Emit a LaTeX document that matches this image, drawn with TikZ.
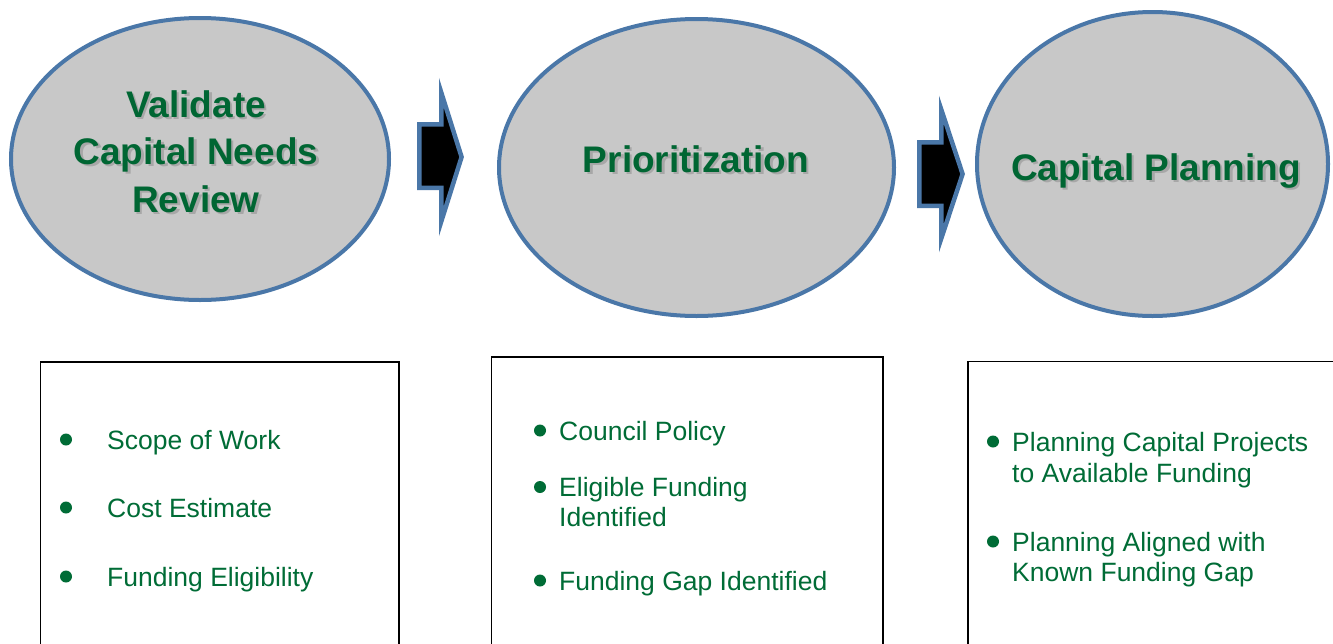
\documentclass[tikz,border=0pt]{standalone}
\usepackage{fontspec}
\setmainfont{Liberation Sans}
\usetikzlibrary{shapes.geometric}

\definecolor{rim}{RGB}{74,119,168}
\definecolor{disc}{RGB}{200,200,200}
\definecolor{leaf}{RGB}{0,102,51}
\definecolor{bodygreen}{RGB}{0,108,54}

\begin{document}
\begin{tikzpicture}[x=1pt,y=-1pt,
  stage/.style={ellipse, draw=rim, fill=disc, line width=4pt, inner sep=0pt},
  title/.style={anchor=base, inner sep=0pt, text=leaf,
    font=\fontsize{37}{48}\selectfont\bfseries},
  titleshadow/.style={title, text=black, opacity=0.16},
  flow/.style={draw=rim, fill=black, line width=4.5pt, line join=miter},
  panel/.style={draw=black, line width=1.6pt, anchor=north west,
    inner sep=0pt, outer sep=0pt, minimum height=400},
  item/.style={anchor=base west, inner sep=0pt, text=bodygreen,
    font=\fontsize{26.5}{31}\selectfont},
  dot/.style={circle, fill=bodygreen, inner sep=0pt, minimum size=12pt},
]
\useasboundingbox (0,0) rectangle (1333,643);
\fill[white] (0,0) rectangle (1333,643);

% the three stages
\node[stage, minimum width=378, minimum height=282] (e1) at (200,159) {};
\node[stage, minimum width=395, minimum height=297] (e2) at (696.5,167.5) {};
\node[stage, minimum width=351, minimum height=304] (e3) at (1152.5,164) {};

% stage titles with a soft drop shadow
\node[titleshadow] (s1a) at (198.5,119.5) {Validate};
\node[titleshadow] (s1b) at (198.5,166.5) {Capital Needs};
\node[titleshadow] (s1c) at (198.5,214.5) {Review};
\node[titleshadow] (s2) at (698.5,174.5) {Prioritization};
\node[titleshadow] (s3) at (1158.5,182.5) {Capital Planning};

\node[title] (t1a) at (196,117) {Validate};
\node[title] (t1b) at (196,164) {Capital Needs};
\node[title] (t1c) at (196,212) {Review};
\node[title] (t2) at (696,172) {Prioritization};
\node[title] (t3) at (1156,180) {Capital Planning};

% block arrows between the stages
\draw[flow] (419.25,124.25) -- (441.25,124.25) -- (441.25,92.5) -- (461.6,157)
  -- (441.25,221.5) -- (441.25,187.75) -- (419.25,187.75) -- cycle;
\draw[flow] (919.25,142.25) -- (941.25,142.25) -- (941.25,109.5) -- (962.6,174)
  -- (941.25,238.5) -- (941.25,205.75) -- (919.25,205.75) -- cycle;

% detail panels
\node[panel, minimum width=358.5] (b1) at (40.5,362) {};
\node[panel, minimum width=391.5] (b2) at (491.5,357) {};
\node[panel, minimum width=400] (b3) at (968,361.5) {};

% panel 1
\node[dot] (d1a) at (66,439.5) {};
\node[dot] (d1b) at (66,507.5) {};
\node[dot] (d1c) at (66,576.5) {};
\node[item] (i1a) at (107,449) {Scope of Work};
\node[item] (i1b) at (107,517) {Cost Estimate};
\node[item] (i1c) at (107,586) {Funding Eligibility};

% panel 2
\node[dot] (d2a) at (540,430.5) {};
\node[dot] (d2b) at (540,487) {};
\node[dot] (d2c) at (540,580.5) {};
\node[item] (i2a) at (559,440) {Council Policy};
\node[item] (i2b) at (559,496) {Eligible Funding};
\node[item] (i2bb) at (559,526) {Identified};
\node[item] (i2c) at (559,590) {Funding Gap Identified};

% panel 3
\node[dot] (d3a) at (993,441.5) {};
\node[dot] (d3b) at (993,541.5) {};
\node[item] (i3a) at (1012,451) {Planning Capital Projects};
\node[item] (i3aa) at (1012,482) {to Available Funding};
\node[item] (i3b) at (1012,551) {Planning Aligned with};
\node[item] (i3bb) at (1012,581) {Known Funding Gap};
\end{tikzpicture}
\end{document}
